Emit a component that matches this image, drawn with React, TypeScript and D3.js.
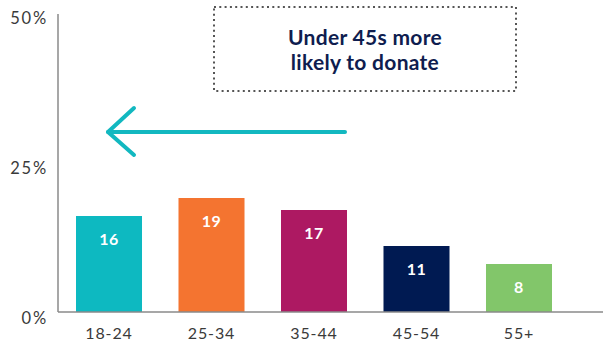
import React from "react";
import * as d3 from "d3";

const categories = ["18-24", "25-34", "35-44", "45-54", "55+"];
const values = [16, 19, 17, 11, 8];
const colors = ["#0db9c1", "#f47430", "#ad1962", "#001a52", "#82c66a"];
const yTicks = [0, 25, 50];
const titleLines = ["Under 45s more", "likely to donate"];

const W = 603;
const H = 343;
const FONT = "Lato, 'Open Sans', sans-serif";

export default function App() {
  const x = d3
    .scaleBand<string>()
    .domain(categories)
    .range([58, 570])
    .paddingInner(0.356)
    .paddingOuter(0.1756);
  const y = d3.scaleLinear().domain([0, 50]).range([312, 12]);

  return (
    <svg
      width={W}
      height={H}
      style={{ position: "absolute", left: 0, top: 0, background: "#fff" }}
    >
      {/* bars */}
      {categories.map((c, i) => (
        <g key={c}>
          <rect
            x={x(c)}
            y={y(values[i])}
            width={x.bandwidth()}
            height={y(0) - y(values[i])}
            fill={colors[i]}
          />
          <text
            x={(x(c) as number) + x.bandwidth() / 2}
            y={y(values[i]) + 29}
            textAnchor="middle"
            fill="#fff"
            fontFamily={FONT}
            fontWeight={700}
            fontSize={16}
            letterSpacing={0.5}
          >
            {values[i]}
          </text>
          <text
            x={(x(c) as number) + x.bandwidth() / 2}
            y={339}
            textAnchor="middle"
            fill="#3a3a3a"
            fontFamily={FONT}
            fontSize={16}
            letterSpacing={0.9}
          >
            {c}
          </text>
        </g>
      ))}

      {/* axes */}
      <line x1={58} x2={58} y1={14} y2={312} stroke="#8a8a8a" strokeWidth={1.5} />
      <line x1={58} x2={603} y1={312} y2={312} stroke="#8a8a8a" strokeWidth={1.5} />
      {yTicks.map((t) => (
        <text
          key={t}
          x={48}
          y={y(t) + 12}
          textAnchor="end"
          fill="#3a3a3a"
          fontFamily={FONT}
          fontSize={16.5}
          letterSpacing={1.8}
        >
          {t}%
        </text>
      ))}

      {/* annotation box */}
      <rect
        x={214}
        y={7}
        width={302}
        height={84}
        fill="none"
        stroke="#555"
        strokeWidth={2}
        strokeDasharray="2 3.3"
      />
      {titleLines.map((l, i) => (
        <text
          key={l}
          x={365}
          y={45 + i * 25}
          textAnchor="middle"
          fill="#0f1d4f"
          fontFamily={FONT}
          fontWeight={700}
          fontSize={21}
          letterSpacing={0.3}
        >
          {l}
        </text>
      ))}

      {/* arrow */}
      <g stroke="#12b8c0" strokeWidth={4} strokeLinecap="round" strokeLinejoin="round" fill="none">
        <line x1={345} y1={132} x2={108} y2={132} />
        <polyline points="134,108 108,132 134,155" />
      </g>
    </svg>
  );
}
